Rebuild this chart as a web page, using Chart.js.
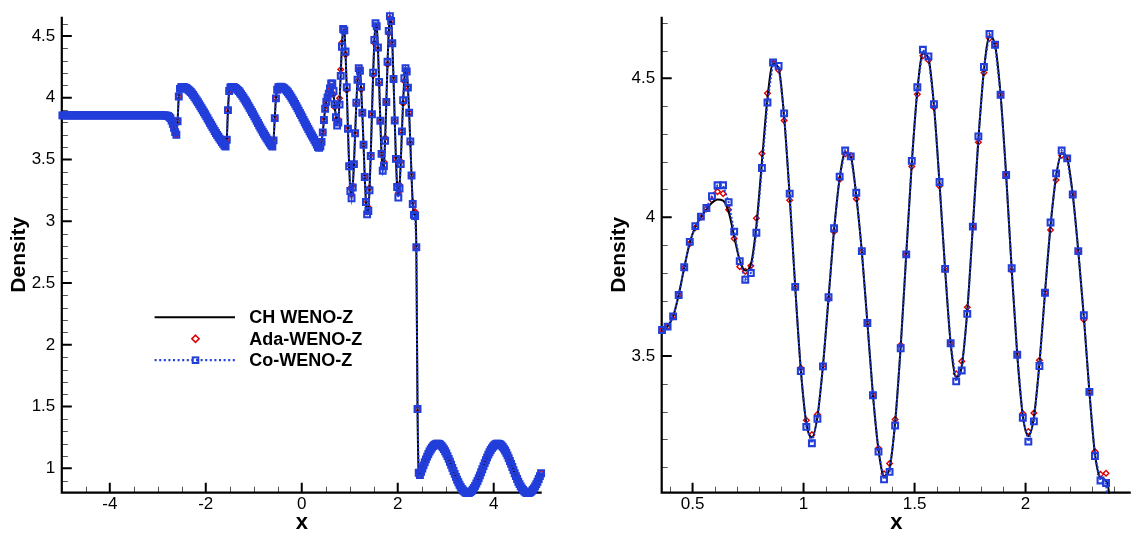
<!DOCTYPE html>
<html>
<head>
<meta charset="utf-8">
<script src="https://cdn.jsdelivr.net/npm/chart.js@4.4.1/dist/chart.umd.min.js"></script>
<style>
html,body{margin:0;padding:0;background:#fff;}
#wrap{position:relative;width:1137px;height:534px;overflow:hidden;background:#fff;}
#c1{position:absolute;left:0;top:0;}
#c2{position:absolute;left:600px;top:0;}
</style>
</head>
<body>
<div id="wrap">
<canvas id="c1" width="567" height="534"></canvas>
<canvas id="c2" width="537" height="534"></canvas>
</div>
<script>
// ---------------- DATA ----------------
const seriesNames = ['CH WENO-Z', 'Ada-WENO-Z', 'Co-WENO-Z'];

// left constant state (shared by all schemes)
const xLeftState = [
  -4.9875,-4.9625,-4.9375,-4.9125,-4.8875,-4.8625,-4.8375,-4.8125,-4.7875,-4.7625,
  -4.7375,-4.7125,-4.6875,-4.6625,-4.6375,-4.6125,-4.5875,-4.5625,-4.5375,-4.5125,
  -4.4875,-4.4625,-4.4375,-4.4125,-4.3875,-4.3625,-4.3375,-4.3125,-4.2875,-4.2625,
  -4.2375,-4.2125,-4.1875,-4.1625,-4.1375,-4.1125,-4.0875,-4.0625,-4.0375,-4.0125,
  -3.9875,-3.9625,-3.9375,-3.9125,-3.8875,-3.8625,-3.8375,-3.8125,-3.7875,-3.7625,
  -3.7375,-3.7125,-3.6875,-3.6625,-3.6375,-3.6125,-3.5875,-3.5625,-3.5375,-3.5125,
  -3.4875,-3.4625,-3.4375,-3.4125,-3.3875,-3.3625,-3.3375,-3.3125,-3.2875,-3.2625,
  -3.2375,-3.2125,-3.1875,-3.1625,-3.1375,-3.1125,-3.0875,-3.0625,-3.0375,-3.0125,
  -2.9875,-2.9625,-2.9375,-2.9125,-2.8875,-2.8625,-2.8375,-2.8125];
const rhoLeftState = [
  3.857,3.857,3.857,3.857,3.857,3.857,3.857,3.857,3.857,3.857,
  3.857,3.857,3.857,3.857,3.857,3.857,3.857,3.857,3.857,3.857,
  3.857,3.857,3.857,3.857,3.857,3.857,3.857,3.857,3.857,3.857,
  3.857,3.857,3.857,3.857,3.857,3.857,3.857,3.857,3.857,3.857,
  3.857,3.857,3.857,3.857,3.857,3.857,3.857,3.857,3.857,3.857,
  3.857,3.857,3.857,3.857,3.857,3.857,3.857,3.857,3.857,3.857,
  3.857,3.857,3.857,3.857,3.857,3.857,3.857,3.857,3.857,3.857,
  3.857,3.857,3.857,3.857,3.857,3.857,3.857,3.857,3.857,3.857,
  3.857,3.857,3.857,3.857,3.857,3.857,3.856,3.855];

// post-shock "teeth" region (shared)
const xTeeth = [
  -2.7875,-2.7625,-2.7375,-2.7125,-2.6875,-2.6625,-2.6375,-2.6125,-2.5875,-2.5625,
  -2.5375,-2.5125,-2.4875,-2.4625,-2.4375,-2.4125,-2.3875,-2.3625,-2.3375,-2.3125,
  -2.2875,-2.2625,-2.2375,-2.2125,-2.1875,-2.1625,-2.1375,-2.1125,-2.0875,-2.0625,
  -2.0375,-2.0125,-1.9875,-1.9625,-1.9375,-1.9125,-1.8875,-1.8625,-1.8375,-1.8125,
  -1.7875,-1.7625,-1.7375,-1.7125,-1.6875,-1.6625,-1.6375,-1.6125,-1.5875,-1.5625,
  -1.5375,-1.5125,-1.4875,-1.4625,-1.4375,-1.4125,-1.3875,-1.3625,-1.3375,-1.3125,
  -1.2875,-1.2625,-1.2375,-1.2125,-1.1875,-1.1625,-1.1375,-1.1125,-1.0875,-1.0625,
  -1.0375,-1.0125,-0.9875,-0.9625,-0.9375,-0.9125,-0.8875,-0.8625,-0.8375,-0.8125,
  -0.7875,-0.7625,-0.7375,-0.7125,-0.6875,-0.6625,-0.6375,-0.6125,-0.5875,-0.5625,
  -0.5375,-0.5125,-0.4875,-0.4625,-0.4375,-0.4125,-0.3875,-0.3625,-0.3375,-0.3125,
  -0.2875,-0.2625,-0.2375,-0.2125,-0.1875,-0.1625,-0.1375,-0.1125,-0.0875,-0.0625,
  -0.0375,-0.0125,0.0125,0.0375,0.0625,0.0875,0.1125,0.1375,0.1625,0.1875,
  0.2125,0.2375,0.2625,0.2875,0.3125,0.3375];
const rhoTeeth = [
  3.852,3.845,3.835,3.815,3.790,3.757,3.722,3.700,3.810,4.010,
  4.072,4.085,4.088,4.087,4.084,4.079,4.073,4.065,4.057,4.046,
  4.035,4.022,4.008,3.993,3.978,3.963,3.947,3.931,3.915,3.899,
  3.882,3.866,3.849,3.832,3.815,3.798,3.781,3.765,3.748,3.731,
  3.715,3.699,3.684,3.669,3.655,3.641,3.628,3.614,3.605,3.660,
  3.900,4.055,4.083,4.088,4.088,4.085,4.080,4.073,4.064,4.054,
  4.042,4.029,4.015,4.000,3.985,3.969,3.953,3.936,3.919,3.902,
  3.884,3.867,3.849,3.831,3.813,3.795,3.777,3.759,3.742,3.725,
  3.708,3.692,3.676,3.661,3.646,3.632,3.618,3.604,3.655,3.835,
  3.995,4.065,4.085,4.088,4.089,4.086,4.082,4.075,4.066,4.056,
  4.044,4.030,4.016,4.000,3.984,3.967,3.950,3.932,3.914,3.896,
  3.877,3.859,3.840,3.821,3.802,3.783,3.765,3.747,3.729,3.711,
  3.694,3.677,3.660,3.642,3.622,3.600];

// high-frequency region (scheme dependent)
const xMid = [
  0.3625,0.3875,0.4125,0.4375,0.4625,0.4875,0.5125,0.5375,0.5625,0.5875,
  0.6125,0.6375,0.6625,0.6875,0.7125,0.7375,0.7625,0.7875,0.8125,0.8375,
  0.8625,0.8875,0.9125,0.9375,0.9625,0.9875,1.0125,1.0375,1.0625,1.0875,
  1.1125,1.1375,1.1625,1.1875,1.2125,1.2375,1.2625,1.2875,1.3125,1.3375,
  1.3625,1.3875,1.4125,1.4375,1.4625,1.4875,1.5125,1.5375,1.5625,1.5875,
  1.6125,1.6375,1.6625,1.6875,1.7125,1.7375,1.7625,1.7875,1.8125,1.8375,
  1.8625,1.8875,1.9125,1.9375,1.9625,1.9875,2.0125,2.0375,2.0625,2.0875,
  2.1125,2.1375,2.1625,2.1875,2.2125,2.2375,2.2625,2.2875,2.3125,2.3375,
  2.3625];
const rhoCH = [
  3.594,3.607,3.643,3.720,3.818,3.908,3.965,4.000,4.028,4.052,
  4.064,4.060,4.020,3.930,3.845,3.808,3.830,3.970,4.200,4.430,
  4.553,4.538,4.360,4.073,3.747,3.452,3.258,3.207,3.282,3.466,
  3.708,3.954,4.140,4.232,4.220,4.076,3.876,3.620,3.360,3.162,
  3.068,3.097,3.262,3.535,3.866,4.193,4.455,4.590,4.572,4.401,
  4.120,3.812,3.546,3.424,3.464,3.664,3.966,4.280,4.530,4.650,
  4.620,4.441,4.152,3.812,3.505,3.286,3.212,3.280,3.474,3.728,
  3.968,4.146,4.230,4.212,4.082,3.878,3.640,3.371,3.148,3.062,
  3.050];
const rhoAda = [
  3.594,3.606,3.643,3.720,3.818,3.905,3.962,4.000,4.030,4.062,
  4.092,4.085,4.027,3.923,3.822,3.805,3.825,3.996,4.229,4.446,
  4.555,4.530,4.348,4.061,3.745,3.457,3.269,3.217,3.290,3.468,
  3.705,3.948,4.136,4.228,4.222,4.066,3.875,3.620,3.360,3.168,
  3.076,3.113,3.272,3.540,3.866,4.183,4.443,4.581,4.565,4.395,
  4.112,3.810,3.546,3.436,3.481,3.676,3.966,4.270,4.520,4.644,
  4.620,4.441,4.152,3.808,3.505,3.293,3.228,3.295,3.485,3.728,
  3.954,4.134,4.222,4.212,4.082,3.878,3.631,3.371,3.156,3.074,
  3.078];
const rhoCo = [
  3.594,3.606,3.643,3.720,3.820,3.911,3.968,4.002,4.033,4.076,
  4.115,4.115,4.054,3.948,3.842,3.775,3.799,3.944,4.177,4.413,
  4.557,4.545,4.374,4.085,3.749,3.446,3.245,3.186,3.274,3.463,
  3.712,3.960,4.146,4.240,4.219,4.088,3.878,3.619,3.359,3.156,
  3.056,3.083,3.250,3.528,3.866,4.203,4.468,4.603,4.579,4.407,
  4.127,3.814,3.546,3.409,3.448,3.652,3.966,4.291,4.541,4.660,
  4.621,4.441,4.152,3.816,3.505,3.278,3.192,3.265,3.464,3.728,
  3.981,4.158,4.240,4.212,4.082,3.878,3.647,3.371,3.140,3.052,
  3.043];

// shock and pre-shock region (shared)
const xPre = [
  2.3875,2.4125,2.4375,2.4625,2.4875,
  2.5125,2.5375,2.5625,2.5875,2.6125,2.6375,2.6625,2.6875,2.7125,2.7375,
  2.7625,2.7875,2.8125,2.8375,2.8625,2.8875,2.9125,2.9375,2.9625,2.9875,
  3.0125,3.0375,3.0625,3.0875,3.1125,3.1375,3.1625,3.1875,3.2125,3.2375,
  3.2625,3.2875,3.3125,3.3375,3.3625,3.3875,3.4125,3.4375,3.4625,3.4875,
  3.5125,3.5375,3.5625,3.5875,3.6125,3.6375,3.6625,3.6875,3.7125,3.7375,
  3.7625,3.7875,3.8125,3.8375,3.8625,3.8875,3.9125,3.9375,3.9625,3.9875,
  4.0125,4.0375,4.0625,4.0875,4.1125,4.1375,4.1625,4.1875,4.2125,4.2375,
  4.2625,4.2875,4.3125,4.3375,4.3625,4.3875,4.4125,4.4375,4.4625,4.4875,
  4.5125,4.5375,4.5625,4.5875,4.6125,4.6375,4.6625,4.6875,4.7125,4.7375,
  4.7625,4.7875,4.8125,4.8375,4.8625,4.8875,4.9125,4.9375,4.9625,4.9875];
const rhoPre = [
  2.790,1.480,0.965,0.945,0.972,
  0.999,1.024,1.049,1.073,1.095,1.116,1.136,1.153,1.168,1.180,
  1.190,1.196,1.199,1.200,1.197,1.191,1.182,1.170,1.156,1.139,
  1.120,1.099,1.077,1.053,1.029,1.004,0.979,0.955,0.931,0.908,
  0.887,0.867,0.850,0.834,0.821,0.812,0.805,0.801,0.800,0.803,
  0.808,0.816,0.828,0.842,0.858,0.877,0.898,0.920,0.943,0.968,
  0.993,1.018,1.042,1.066,1.089,1.111,1.131,1.149,1.164,1.177,
  1.187,1.195,1.199,1.200,1.198,1.193,1.185,1.174,1.160,1.144,
  1.126,1.105,1.083,1.060,1.036,1.011,0.986,0.961,0.937,0.914,
  0.892,0.872,0.854,0.838,0.825,0.814,0.806,0.801,0.800,0.802,
  0.806,0.814,0.825,0.838,0.854,0.872,0.892,0.914,0.937,0.961];

// axis ticks
const leftXTicks = [-4, -2, 0, 2, 4];
const leftXLabels = ['-4', '-2', '0', '2', '4'];
const leftYTicks = [1, 1.5, 2, 2.5, 3, 3.5, 4, 4.5];
const leftYLabels = ['1', '1.5', '2', '2.5', '3', '3.5', '4', '4.5'];
const rightXTicks = [0.5, 1, 1.5, 2];
const rightXLabels = ['0.5', '1', '1.5', '2'];
const rightYTicks = [3.5, 4, 4.5];
const rightYLabels = ['3.5', '4', '4.5'];

// ---------------- BUILD ----------------
const F = "'Liberation Sans', Arial, Helvetica, sans-serif";
const BLUE = 'rgb(34,62,218)';
const RED = 'rgb(222,0,0)';

const xAll = [].concat(xLeftState, xTeeth, xMid, xPre);
const sharedL = [].concat(rhoLeftState, rhoTeeth);
const ySeries = [
  sharedL.concat(rhoCH, rhoPre),
  sharedL.concat(rhoAda, rhoPre),
  sharedL.concat(rhoCo, rhoPre)
];
function pts(ys, lo, hi) {
  const out = [];
  for (let i = 0; i < xAll.length; i++) {
    if (xAll[i] >= lo && xAll[i] <= hi) out.push({x: xAll[i], y: ys[i]});
  }
  return out;
}
function minorList(lo, hi, step, majors) {
  const out = [];
  const n = Math.round((hi - lo) / step);
  for (let k = 0; k <= n; k++) {
    const v = Math.round((lo + k * step) * 1000) / 1000;
    if (!majors.some(m => Math.abs(m - v) < 1e-6)) out.push(v);
  }
  return out;
}

function makeDatasets(lo, hi, clip) {
  return [
    {label: seriesNames[0], data: pts(ySeries[0], lo, hi), borderColor: '#000', borderWidth: 2,
     pointRadius: 0, fill: false, order: 1, cubicInterpolationMode: 'monotone', clip: clip},
    {label: seriesNames[1], data: pts(ySeries[1], lo, hi), showLine: false, pointStyle: 'rectRot',
     pointRadius: 2.8, pointBorderColor: RED, pointBorderWidth: 1.4, pointBackgroundColor: 'rgba(0,0,0,0)',
     borderColor: RED, order: 2, clip: clip},
    {label: seriesNames[2], data: pts(ySeries[2], lo, hi), borderColor: BLUE, borderWidth: 2,
     borderDash: [2, 2], pointStyle: 'rect', pointRadius: 4.1, pointBorderColor: BLUE,
     pointBorderWidth: 2.1, pointBackgroundColor: 'rgba(0,0,0,0)', order: 0, clip: clip}
  ];
}

const axisDecor = {
  id: 'axisDecor',
  beforeDatasetsDraw(chart, args, o) {
    const {ctx, chartArea: a} = chart;
    const xs = chart.scales.x, ys = chart.scales.y;
    ctx.save();
    ctx.lineCap = 'butt';
    ctx.lineWidth = 1;
    ctx.strokeStyle = '#555';
    ctx.beginPath();
    for (const v of o.xMinor) { const p = Math.round(xs.getPixelForValue(v)) + 0.5; ctx.moveTo(p, a.bottom); ctx.lineTo(p, a.bottom - 6); }
    for (const v of o.yMinor) { const p = Math.round(ys.getPixelForValue(v)) + 0.5; ctx.moveTo(a.left, p); ctx.lineTo(a.left + 6, p); }
    ctx.stroke();
    ctx.lineWidth = 2;
    ctx.strokeStyle = '#000';
    ctx.beginPath();
    for (const v of o.xMajor) { const p = xs.getPixelForValue(v); ctx.moveTo(p, a.bottom); ctx.lineTo(p, a.bottom - 10); }
    for (const v of o.yMajor) { const p = ys.getPixelForValue(v); ctx.moveTo(a.left, p); ctx.lineTo(a.left + 10, p); }
    ctx.stroke();
    ctx.lineWidth = 2.2;
    ctx.beginPath();
    ctx.moveTo(a.left, a.top);
    ctx.lineTo(a.left, a.bottom);
    ctx.lineTo(a.right, a.bottom);
    ctx.stroke();
    ctx.restore();
  }
};

const insetLegend = {
  id: 'insetLegend',
  afterDatasetsDraw(chart, args, o) {
    if (!o.show) return;
    const ctx = chart.ctx;
    const x0 = 154.6, x1 = 235, xm = 195.5, tx = 249.3;
    const rows = [317.3, 338.8, 360.2];
    ctx.save();
    ctx.strokeStyle = '#000'; ctx.lineWidth = 2;
    ctx.beginPath(); ctx.moveTo(x0, rows[0]); ctx.lineTo(x1, rows[0]); ctx.stroke();
    ctx.strokeStyle = RED; ctx.lineWidth = 1.6;
    const r = 3.6;
    ctx.beginPath();
    ctx.moveTo(xm, rows[1] - r); ctx.lineTo(xm + r, rows[1]); ctx.lineTo(xm, rows[1] + r); ctx.lineTo(xm - r, rows[1]); ctx.closePath();
    ctx.stroke();
    ctx.strokeStyle = BLUE; ctx.lineWidth = 2.2;
    ctx.setLineDash([2, 2.6]);
    ctx.beginPath(); ctx.moveTo(x0, rows[2]); ctx.lineTo(x1, rows[2]); ctx.stroke();
    ctx.setLineDash([]);
    ctx.lineWidth = 2;
    ctx.strokeRect(xm - 2.8, rows[2] - 2.8, 5.6, 5.6);
    ctx.fillStyle = '#000';
    ctx.font = 'bold 18px ' + F;
    ctx.textBaseline = 'middle';
    ctx.textAlign = 'left';
    for (let i = 0; i < 3; i++) ctx.fillText(chart.data.datasets[i].label, tx, rows[i] + 1);
    ctx.restore();
  }
};

function tickArrayScale(values, labels, extra) {
  return Object.assign({
    type: 'linear',
    afterBuildTicks: s => { s.ticks = values.map(v => ({value: v})); },
    grid: {display: false, drawTicks: false},
    border: {display: false}
  }, extra, {
    ticks: Object.assign({
      autoSkip: false, maxRotation: 0, minRotation: 0, color: '#000',
      font: {family: F, size: 17},
      callback: (v, i) => labels[i]
    }, extra.ticks || {})
  });
}

function makeChart(canvasId, cfg) {
  return new Chart(document.getElementById(canvasId), {
    type: 'line',
    data: {datasets: cfg.datasets},
    options: {
      responsive: false, animation: false, devicePixelRatio: 1, events: [],
      layout: {padding: cfg.padding},
      scales: {
        x: tickArrayScale(cfg.xTicks, cfg.xLabels, {
          min: cfg.xMin, max: cfg.xMax,
          ticks: {padding: 1},
          title: {display: true, text: 'x', color: '#000',
                  font: {family: F, size: 22, weight: 'bold', lineHeight: 1}, padding: {top: 0, bottom: 0}},
          afterFit: s => { s.height = 41.3; }
        }),
        y: tickArrayScale(cfg.yTicks, cfg.yLabels, {
          min: cfg.yMin, max: cfg.yMax,
          ticks: {padding: 6.5},
          title: {display: true, text: 'Density', color: '#000',
                  font: {family: F, size: 21, weight: 'bold', lineHeight: 1.2}, padding: {top: 6.2, bottom: 0}},
          afterFit: s => { s.width = cfg.yWidth; }
        })
      },
      plugins: {
        legend: {display: false},
        tooltip: {enabled: false},
        axisDecor: {xMajor: cfg.xTicks, yMajor: cfg.yTicks, xMinor: cfg.xMinor, yMinor: cfg.yMinor},
        insetLegend: {show: cfg.legend}
      }
    },
    plugins: [axisDecor, insetLegend]
  });
}

makeChart('c1', {
  datasets: makeDatasets(-Infinity, Infinity, false),
  padding: {left: 0, top: 13.6, right: 25.3, bottom: 0},
  xMin: -5, xMax: 5, yMin: 0.803, yMax: 4.656, yWidth: 61.8,
  xTicks: leftXTicks, xLabels: leftXLabels, yTicks: leftYTicks, yLabels: leftYLabels,
  xMinor: minorList(-4.5, 4.5, 0.5, leftXTicks),
  yMinor: minorList(0.9, 4.6, 0.1, leftYTicks),
  legend: true
});

makeChart('c2', {
  datasets: makeDatasets(0.36, 2.42, {left: 6, top: 10, right: 0, bottom: 1}),
  padding: {left: 0, top: 13.6, right: 0, bottom: 0},
  xMin: 0.361, xMax: 2.474, yMin: 3.008, yMax: 4.722, yWidth: 61.7,
  xTicks: rightXTicks, xLabels: rightXLabels, yTicks: rightYTicks, yLabels: rightYLabels,
  xMinor: minorList(0.4, 2.4, 0.1, rightXTicks),
  yMinor: minorList(3.1, 4.7, 0.1, rightYTicks),
  legend: false
});
</script>
</body>
</html>
